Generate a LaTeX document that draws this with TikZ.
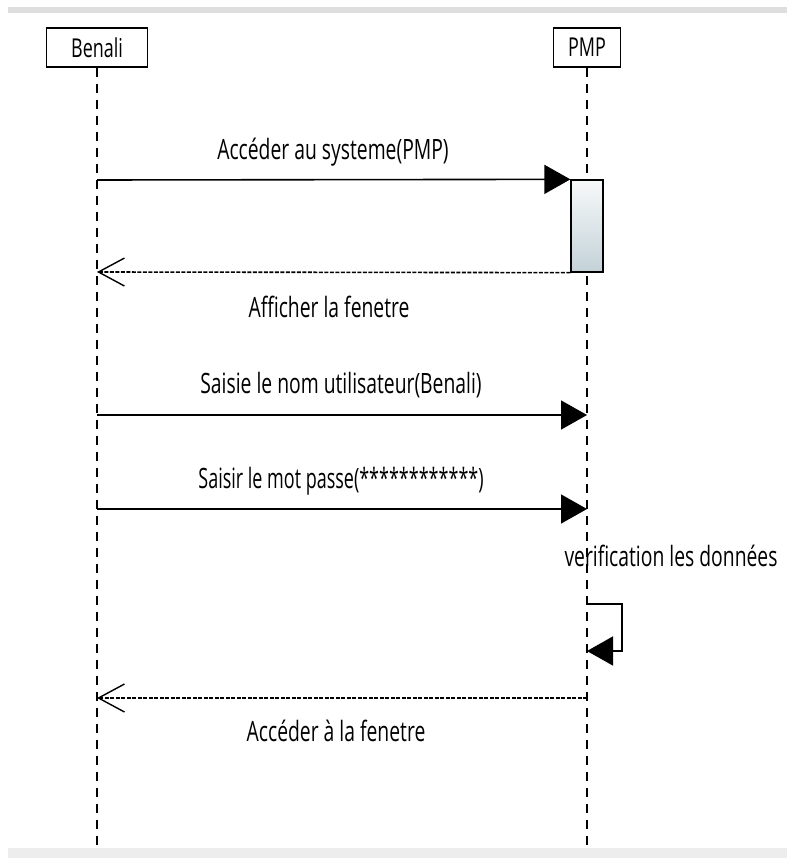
\documentclass[tikz,border=0pt]{standalone}
\usepackage{fontspec}
\setmainfont[FakeStretch=0.69]{Open Sans}
\usetikzlibrary{arrows.meta}
\definecolor{actbot}{HTML}{C3D2D8}
\definecolor{acttop}{HTML}{F7F9F9}
\begin{document}
\begin{tikzpicture}[x=1pt,y=-1pt,
  head/.style={draw=black,line width=1.4pt,fill=white,minimum height=39pt,inner sep=0pt,font=\fontsize{26}{28}\selectfont},
  lifeline/.style={draw=black,line width=1.3pt,dash pattern=on 9pt off 7pt},
  msg/.style={draw=black,line width=1.6pt,-{Triangle[length=26pt,width=29pt]}},
  ret/.style={draw=black,line width=1.6pt,dash pattern=on 4pt off 1.5pt,-{Straight Barb[length=26pt,width=28pt,line width=1.4pt]}},
  lbl/.style={inner sep=0pt,font=\fontsize{28}{30}\selectfont}]
\useasboundingbox (0,0) rectangle (787,858);
\fill[black!13] (8,7) rectangle (787,13);
\fill[black!7] (8,848) rectangle (787,858);
% heads
\node[head,minimum width=101pt] (benali) at (97,47.5) {Benali};
\node[head,minimum width=67pt] (pmp) at (587,47.5) {PMP};
\coordinate (bend) at (97,847);
\coordinate (pend) at (587,847);
\draw[lifeline] (benali.south) -- (bend);
\draw[lifeline] (pmp.south) -- (pend);
% activation
\node[draw=black,line width=1.3pt,top color=acttop,bottom color=actbot,minimum width=32pt,minimum height=92pt,inner sep=0pt] (act) at (587,226) {};
% points
\coordinate (b1) at (97,180);
\coordinate (b2) at (97,272);
\coordinate (b3) at (97,415);
\coordinate (p3) at (587,415);
\coordinate (b4) at (97,509);
\coordinate (p4) at (587,509);
\coordinate (s1) at (587,604);
\coordinate (s2) at (622,604);
\coordinate (s3) at (622,651);
\coordinate (s4) at (587,651);
\coordinate (b5) at (97,698);
\coordinate (p5) at (587,698);
% messages
\draw[msg] (b1) -- (act.north west);
\draw[ret] (act.south west) -- (b2);
\draw[msg] (b3) -- (p3);
\draw[msg] (b4) -- (p4);
\draw[msg] (s1) -- (s2) -- (s3) -- (s4);
\draw[ret] (p5) -- (b5);
% labels
\node[lbl] (l1) at (333,152) {Accéder au systeme(PMP)};
\node[lbl] (l2) at (329,307) {Afficher la fenetre};
\node[lbl] (l3) at (341,385) {Saisie le nom utilisateur(Benali)};
\node[lbl,xscale=0.93,transform shape] (l4) at (341,481) {Saisir le mot passe(************)};
\node[lbl] (l5) at (671,556) {verification les données};
\node[lbl] (l6) at (336,731) {Accéder à la fenetre};
\end{tikzpicture}
\end{document}
